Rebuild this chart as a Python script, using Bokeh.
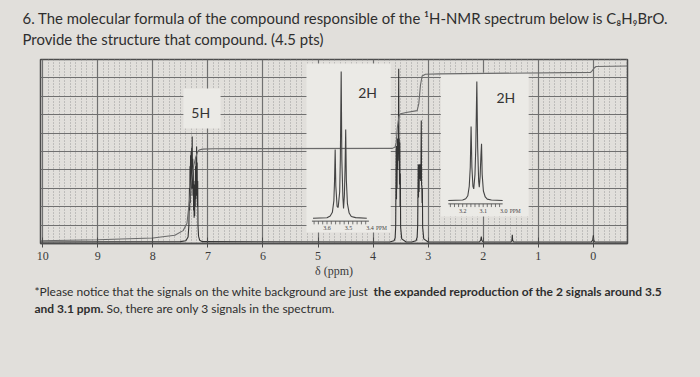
from bokeh.plotting import figure
from bokeh.models import Range1d, FixedTicker
from bokeh.layouts import column
from bokeh.embed import file_html
from bokeh.resources import INLINE
from bokeh.core.properties import value

# ---------------- data ----------------
ppm_ticks = [10, 9, 8, 7, 6, 5, 4, 3, 2, 1, 0]
grid_rows = [1, 2, 3, 4, 5, 6, 7, 8, 9]
minor_cols = [round(i * 0.1, 1) for i in range(-6, 101) if i % 10 != 0]

base = 0.08
# aromatic multiplet (~7.25 ppm, 5H)
arom_ppm = [7.50, 7.40, 7.36, 7.345, 7.335, 7.33, 7.325, 7.32, 7.315, 7.31, 7.305, 7.30, 7.295, 7.29,
            7.285, 7.28, 7.275, 7.27, 7.265, 7.26, 7.255, 7.25, 7.245, 7.24, 7.235, 7.23, 7.225, 7.22,
            7.215, 7.21, 7.205, 7.20, 7.195, 7.19, 7.185, 7.18, 7.17, 7.15, 7.10]
arom_int = [0.10, 0.15, 0.35, 1.0, 3.0, 1.8, 4.2, 2.2, 4.8, 2.6, 5.0, 3.0, 5.2, 3.2,
            5.82, 3.0, 4.6, 2.6, 4.0, 1.8, 3.2, 1.4, 2.6, 1.5, 3.4, 2.0, 4.2, 2.4,
            4.7, 2.8, 5.27, 2.6, 4.4, 2.0, 3.4, 1.0, 0.4, 0.18, 0.10]
# triplet ~3.55 ppm (2H)
t35_ppm = [3.70, 3.62, 3.60, 3.59, 3.585, 3.58, 3.575, 3.57, 3.565, 3.56, 3.555, 3.55, 3.545, 3.54,
           3.535, 3.53, 3.525, 3.52, 3.515, 3.51, 3.505, 3.50, 3.48, 3.40]
t35_int = [0.08, 0.15, 0.3, 0.9, 3.0, 5.3, 2.4, 5.0, 3.0, 5.7, 4.0, 5.6, 4.5, 6.0,
           9.5, 5.0, 5.7, 3.2, 5.5, 2.0, 3.8, 0.9, 0.25, 0.08]
# triplet ~3.13 ppm (2H)
t31_ppm = [3.30, 3.22, 3.20, 3.19, 3.185, 3.18, 3.175, 3.17, 3.165, 3.16, 3.155, 3.15, 3.145, 3.14,
           3.135, 3.13, 3.125, 3.12, 3.115, 3.11, 3.105, 3.10, 3.08, 3.00]
t31_int = [0.08, 0.15, 0.35, 1.0, 2.8, 4.3, 2.5, 4.2, 2.8, 4.3, 3.5, 4.2, 3.6, 4.3,
           3.4, 4.4, 6.68, 3.2, 3.1, 2.2, 3.0, 0.9, 0.25, 0.08]
# small impurity peaks and TMS
p203_ppm = [2.07, 2.045, 2.035, 2.028, 2.015, 1.99]
p203_int = [0.08, 0.18, 0.38, 0.20, 0.12, 0.08]
p147_ppm = [1.50, 1.48, 1.472, 1.466, 1.455, 1.43]
p147_int = [0.08, 0.15, 0.48, 0.20, 0.10, 0.08]
tms_ppm = [0.04, 0.012, 0.0, -0.008, -0.03]
tms_int = [0.08, 0.18, 0.45, 0.18, 0.08]

# integral trace
integ_ppm = [10.04, 9.0, 8.0, 7.6, 7.45, 7.38, 7.34, 7.30, 7.26, 7.22, 7.19, 7.16, 7.10, 6.9,
             3.65, 3.60, 3.58, 3.56, 3.53, 3.50, 3.40, 3.20, 3.17, 3.14, 3.11, 3.05, 2.8,
             0.05, 0.02, -0.02, -0.05, -0.62]
integ_val = [0.15, 0.2, 0.3, 0.45, 0.7, 1.1, 2.2, 3.4, 4.2, 4.7, 4.95, 5.08, 5.13, 5.15,
             5.17, 5.25, 5.5, 6.3, 6.9, 7.05, 7.12, 7.22, 7.6, 8.6, 9.1, 9.2, 9.22,
             9.3, 9.4, 9.55, 9.62, 9.65]

# expansion insets (relative intensity, centre line = 100)
ins1_ppm = [3.665, 3.60, 3.585, 3.575, 3.568, 3.565, 3.562, 3.559, 3.553, 3.548, 3.541, 3.538, 3.534,
            3.531, 3.526, 3.523, 3.519, 3.516, 3.513, 3.510, 3.505, 3.497, 3.487, 3.467, 3.415]
ins1_int = [0, 0.3, 1.5, 4, 12, 25, 46.8, 22, 8, 7.3, 18, 40, 100,
            40, 14, 6.6, 16, 34, 60.5, 26, 10, 3.5, 1.2, 0.4, 0]
ins1_ticks = [3.66, 3.64, 3.62, 3.60, 3.58, 3.56, 3.54, 3.52, 3.50, 3.48, 3.46, 3.44, 3.42]
ins1_labels = ["3.6", "3.5", "3.4"]
ins1_label_pos = [3.6, 3.5, 3.4]

ins2_ppm = [3.27, 3.20, 3.185, 3.175, 3.168, 3.163, 3.159, 3.155, 3.150, 3.146, 3.140, 3.136, 3.131,
            3.127, 3.122, 3.119, 3.115, 3.111, 3.108, 3.105, 3.099, 3.090, 3.080, 3.060, 3.005]
ins2_int = [0, 0.4, 1.5, 4, 12, 28, 62.2, 28, 12, 9.8, 22, 45, 100,
            45, 16, 11.2, 20, 38, 47.6, 22, 8, 3, 1.2, 0.4, 0]
ins2_ticks = [3.26, 3.24, 3.22, 3.20, 3.18, 3.16, 3.14, 3.12, 3.10, 3.08, 3.06, 3.04, 3.02]
ins2_labels = ["3.2", "3.1", "3.0"]
ins2_label_pos = [3.2, 3.1, 3.0]

peak_labels = ["5H", "2H", "2H"]
peak_label_x = [7.13, 4.10, 1.59]
peak_label_y = [7.12, 8.2, 7.93]

title_lines = ["6. The molecular formula of the compound responsible of the \u00b9H-NMR spectrum below is C\u2088H\u2089BrO.",
               "Provide the structure that compound. (4.5 pts)"]
note_normal = ["*Please notice that the signals on the white background are just",
               "So, there are only 3 signals in the spectrum."]
note_bold = ["the expanded reproduction of the 2 signals around 3.5", "and 3.1 ppm."]

# ---------------- styling constants ----------------
PAGE = "#e1dfdb"
WHITE = "#ebeae6"
INK = "#2e2e2e"
GRID = "#707070"
TOP_H, MAIN_H = 57, 225
W = 700


def text_panel(h):
    f = figure(width=W, height=h, x_range=Range1d(0, W), y_range=Range1d(h, 0),
               output_backend="svg", toolbar_location=None, min_border=0,
               x_axis_type=None, y_axis_type=None, frame_align=False)
    f.grid.visible = False
    f.outline_line_color = None
    f.background_fill_color = PAGE
    f.border_fill_color = PAGE
    return f


# ---- title panel ----
top = text_panel(TOP_H)
top.text(x=[22, 22], y=[17, 38], text=title_lines, text_font=value("Lato"), text_font_size="14.9px",
         text_color=INK, text_align="left", text_baseline="middle")

# ---- spectrum ----
p = figure(width=W, height=MAIN_H, x_range=Range1d(10.04, -0.62), y_range=Range1d(0, 10),
           output_backend="svg", toolbar_location=None, frame_align=False,
           min_border_left=40, min_border_right=73, min_border_top=2, min_border_bottom=39)
p.background_fill_color = PAGE
p.border_fill_color = PAGE
p.outline_line_color = "#4d4d4d"
p.outline_line_width = 1.5
p.yaxis.visible = False

p.xgrid.ticker = FixedTicker(ticks=ppm_ticks, minor_ticks=minor_cols)
p.xgrid.grid_line_color = GRID
p.xgrid.grid_line_width = 1.2
p.xgrid.minor_grid_line_color = "#9a9a9a"
p.xgrid.minor_grid_line_dash = "1 2"
p.ygrid.ticker = FixedTicker(ticks=grid_rows)
p.ygrid.grid_line_color = GRID
p.ygrid.grid_line_width = 1.2

ax = p.xaxis[0]
ax.ticker = FixedTicker(ticks=ppm_ticks)
ax.major_label_text_font = "Liberation Serif"
ax.major_label_text_font_size = "12px"
ax.major_label_text_color = "#3a3a3a"
ax.axis_line_color = "#4d4d4d"
ax.axis_line_width = 1.5
ax.major_tick_line_color = "#4d4d4d"
ax.major_tick_in = 6
ax.major_tick_out = 4
ax.minor_tick_line_color = None
ax.major_label_standoff = 4
ax.axis_label = "δ (ppm)"
ax.axis_label_text_font = "Liberation Serif"
ax.axis_label_text_font_style = "normal"
ax.axis_label_text_font_size = "12px"
ax.axis_label_text_color = "#3a3a3a"
ax.axis_label_standoff = 1

# white backgrounds (label box and the two expansion insets)
p.quad(left=[7.445, 5.21, 2.77], right=[6.77, 3.68, 1.175], bottom=[6.25, 0.6, 1.47],
       top=[8.42, 9.78, 9.28], fill_color=WHITE, line_color=None)

# inset ranges
p.extra_x_ranges = {"i1x": Range1d(4.9326, 2.2023), "i2x": Range1d(5.2595, 2.396)}
p.extra_y_ranges = {"i1y": Range1d(-17.25, 108.2), "i2y": Range1d(-36.1, 118.5)}

# main spectrum
spec_ppm = [10.04] + arom_ppm + t35_ppm + t31_ppm + p203_ppm + p147_ppm + tms_ppm + [-0.62]
spec_int = [base] + arom_int + t35_int + t31_int + p203_int + p147_int + tms_int + [base]
p.line(spec_ppm, spec_int, line_color="#333333", line_width=1.1)

# integral
p.line(integ_ppm, integ_val, line_color="#6a6a6a", line_width=1.1)


def inset(xr, yr, xs, ys, ticks, lab_pos, labs, y_axis, y_tick, y_lab):
    p.line(xs, ys, x_range_name=xr, y_range_name=yr, line_color="#444444", line_width=1.1)
    p.segment(x0=[ticks[0] + 0.01], x1=[ticks[-1] - 0.015], y0=[y_axis], y1=[y_axis],
              x_range_name=xr, y_range_name=yr, line_color="#555555", line_width=1)
    p.segment(x0=ticks, x1=ticks, y0=[y_axis] * len(ticks), y1=[y_tick] * len(ticks),
              x_range_name=xr, y_range_name=yr, line_color="#555555", line_width=0.8)
    p.text(x=lab_pos, y=[y_lab] * len(lab_pos), text=labs, x_range_name=xr, y_range_name=yr,
           text_font=value("Liberation Serif"), text_font_size="6px", text_color="#444444",
           text_align="center", text_baseline="middle")
    p.text(x=[lab_pos[-1]], y=[y_lab], text=["PPM"], x_range_name=xr, y_range_name=yr,
           x_offset=6, text_font=value("Liberation Serif"), text_font_size="5.5px",
           text_color="#444444", text_align="left", text_baseline="middle")


inset("i1x", "i1y", ins1_ppm, ins1_int, ins1_ticks, ins1_label_pos, ins1_labels, -2.0, -4.2, -6.8)
inset("i2x", "i2y", ins2_ppm, ins2_int, ins2_ticks, ins2_label_pos, ins2_labels, -2.8, -5.5, -8.6)

# peak annotations
p.text(x=peak_label_x, y=peak_label_y, text=peak_labels, text_font=value("Lato"),
       text_font_size="14px", text_color="#333333", text_align="center", text_baseline="middle")

# ---- footnote panel ----
bot_h = 377 - TOP_H - MAIN_H
bot = text_panel(bot_h)
y0 = 291 - TOP_H - MAIN_H
y1 = 308 - TOP_H - MAIN_H
bot.text(x=[34, 106], y=[y0, y1], text=note_normal, text_font=value("Lato"), text_font_size="12px",
         text_color=INK, text_align="left", text_baseline="middle")
bot.text(x=[373, 34], y=[y0, y1], text=note_bold, text_font=value("Lato"), text_font_size="12px",
         text_font_style="bold", text_color=INK, text_align="left", text_baseline="middle")

layout = column(top, p, bot, spacing=0, styles={"background-color": PAGE})
open("out.html", "w").write(file_html(layout, INLINE))
